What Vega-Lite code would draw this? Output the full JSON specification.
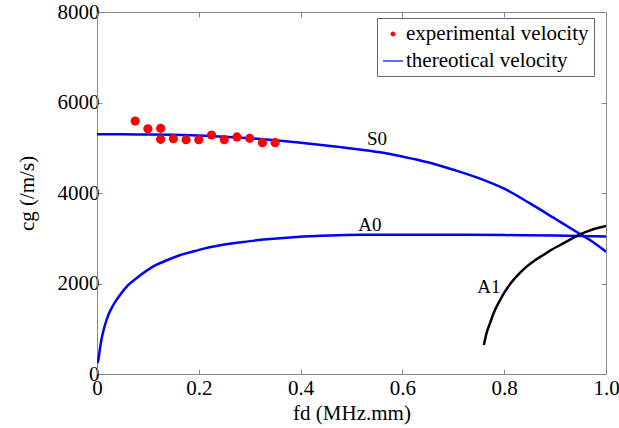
{
  "$schema": "https://vega.github.io/schema/vega-lite/v6.json",
  "width": 509,
  "height": 362,
  "autosize": "none",
  "padding": {"left": 97, "top": 12, "right": 13, "bottom": 54},
  "background": "white",
  "datasets": {
    "exp": [
      {"fd": 0.075, "v": 5590, "series": "experimental velocity"},
      {"fd": 0.1, "v": 5420, "series": "experimental velocity"},
      {"fd": 0.125, "v": 5430, "series": "experimental velocity"},
      {"fd": 0.125, "v": 5187, "series": "experimental velocity"},
      {"fd": 0.15, "v": 5200, "series": "experimental velocity"},
      {"fd": 0.175, "v": 5178, "series": "experimental velocity"},
      {"fd": 0.2, "v": 5178, "series": "experimental velocity"},
      {"fd": 0.225, "v": 5282, "series": "experimental velocity"},
      {"fd": 0.25, "v": 5178, "series": "experimental velocity"},
      {"fd": 0.275, "v": 5238, "series": "experimental velocity"},
      {"fd": 0.3, "v": 5208, "series": "experimental velocity"},
      {"fd": 0.325, "v": 5112, "series": "experimental velocity"},
      {"fd": 0.35, "v": 5112, "series": "experimental velocity"}
    ],
    "theory": [
      {"mode": "S0", "fd": 0.0, "v": 5300, "series": "thereotical velocity"},
      {"mode": "S0", "fd": 0.05, "v": 5298, "series": "thereotical velocity"},
      {"mode": "S0", "fd": 0.1, "v": 5293, "series": "thereotical velocity"},
      {"mode": "S0", "fd": 0.15, "v": 5285, "series": "thereotical velocity"},
      {"mode": "S0", "fd": 0.2, "v": 5270, "series": "thereotical velocity"},
      {"mode": "S0", "fd": 0.25, "v": 5245, "series": "thereotical velocity"},
      {"mode": "S0", "fd": 0.3, "v": 5210, "series": "thereotical velocity"},
      {"mode": "S0", "fd": 0.35, "v": 5165, "series": "thereotical velocity"},
      {"mode": "S0", "fd": 0.4, "v": 5110, "series": "thereotical velocity"},
      {"mode": "S0", "fd": 0.45, "v": 5050, "series": "thereotical velocity"},
      {"mode": "S0", "fd": 0.5, "v": 4985, "series": "thereotical velocity"},
      {"mode": "S0", "fd": 0.556, "v": 4899, "series": "thereotical velocity"},
      {"mode": "S0", "fd": 0.6, "v": 4805, "series": "thereotical velocity"},
      {"mode": "S0", "fd": 0.65, "v": 4680, "series": "thereotical velocity"},
      {"mode": "S0", "fd": 0.7, "v": 4515, "series": "thereotical velocity"},
      {"mode": "S0", "fd": 0.75, "v": 4330, "series": "thereotical velocity"},
      {"mode": "S0", "fd": 0.8, "v": 4095, "series": "thereotical velocity"},
      {"mode": "S0", "fd": 0.85, "v": 3775, "series": "thereotical velocity"},
      {"mode": "S0", "fd": 0.9, "v": 3430, "series": "thereotical velocity"},
      {"mode": "S0", "fd": 0.936, "v": 3182, "series": "thereotical velocity"},
      {"mode": "S0", "fd": 0.97, "v": 2950, "series": "thereotical velocity"},
      {"mode": "S0", "fd": 1.0, "v": 2703, "series": "thereotical velocity"},
      {"mode": "A0", "fd": 0.0008, "v": 240, "series": "thereotical velocity"},
      {"mode": "A0", "fd": 0.0026, "v": 309, "series": "thereotical velocity"},
      {"mode": "A0", "fd": 0.0059, "v": 568, "series": "thereotical velocity"},
      {"mode": "A0", "fd": 0.0092, "v": 789, "series": "thereotical velocity"},
      {"mode": "A0", "fd": 0.0157, "v": 1083, "series": "thereotical velocity"},
      {"mode": "A0", "fd": 0.0222, "v": 1304, "series": "thereotical velocity"},
      {"mode": "A0", "fd": 0.032, "v": 1525, "series": "thereotical velocity"},
      {"mode": "A0", "fd": 0.0452, "v": 1746, "series": "thereotical velocity"},
      {"mode": "A0", "fd": 0.0615, "v": 1967, "series": "thereotical velocity"},
      {"mode": "A0", "fd": 0.0812, "v": 2150, "series": "thereotical velocity"},
      {"mode": "A0", "fd": 0.1074, "v": 2358, "series": "thereotical velocity"},
      {"mode": "A0", "fd": 0.1336, "v": 2497, "series": "thereotical velocity"},
      {"mode": "A0", "fd": 0.1598, "v": 2614, "series": "thereotical velocity"},
      {"mode": "A0", "fd": 0.1925, "v": 2718, "series": "thereotical velocity"},
      {"mode": "A0", "fd": 0.212, "v": 2777, "series": "thereotical velocity"},
      {"mode": "A0", "fd": 0.261, "v": 2880, "series": "thereotical velocity"},
      {"mode": "A0", "fd": 0.327, "v": 2970, "series": "thereotical velocity"},
      {"mode": "A0", "fd": 0.392, "v": 3030, "series": "thereotical velocity"},
      {"mode": "A0", "fd": 0.458, "v": 3062, "series": "thereotical velocity"},
      {"mode": "A0", "fd": 0.523, "v": 3076, "series": "thereotical velocity"},
      {"mode": "A0", "fd": 0.6, "v": 3080, "series": "thereotical velocity"},
      {"mode": "A0", "fd": 0.7, "v": 3078, "series": "thereotical velocity"},
      {"mode": "A0", "fd": 0.8, "v": 3070, "series": "thereotical velocity"},
      {"mode": "A0", "fd": 0.9, "v": 3060, "series": "thereotical velocity"},
      {"mode": "A0", "fd": 1.0, "v": 3040, "series": "thereotical velocity"}
    ],
    "a1": [
      {"mode": "A1", "fd": 0.76, "v": 641},
      {"mode": "A1", "fd": 0.765, "v": 890},
      {"mode": "A1", "fd": 0.772, "v": 1120},
      {"mode": "A1", "fd": 0.781, "v": 1390},
      {"mode": "A1", "fd": 0.792, "v": 1635},
      {"mode": "A1", "fd": 0.802, "v": 1830},
      {"mode": "A1", "fd": 0.814, "v": 2020},
      {"mode": "A1", "fd": 0.828, "v": 2200},
      {"mode": "A1", "fd": 0.844, "v": 2372},
      {"mode": "A1", "fd": 0.86, "v": 2510},
      {"mode": "A1", "fd": 0.877, "v": 2630},
      {"mode": "A1", "fd": 0.893, "v": 2745},
      {"mode": "A1", "fd": 0.91, "v": 2851},
      {"mode": "A1", "fd": 0.93, "v": 2975},
      {"mode": "A1", "fd": 0.949, "v": 3087},
      {"mode": "A1", "fd": 0.969, "v": 3175},
      {"mode": "A1", "fd": 1.0, "v": 3270}
    ],
    "labels": [
      {"fd": 0.55, "v": 5187, "label": "S0"},
      {"fd": 0.536, "v": 3293, "label": "A0"},
      {"fd": 0.77, "v": 1916, "label": "A1"}
    ]
  },
  "resolve": {"axis": {"x": "independent", "y": "independent"}},
  "layer": [
    {
      "data": {"name": "theory"},
      "mark": {"type": "line", "strokeWidth": 2.5, "clip": true, "interpolate": "monotone"},
      "encoding": {
        "x": {
          "field": "fd",
          "type": "quantitative",
          "scale": {"domain": [0, 1], "nice": false, "zero": false},
          "axis": {
            "orient": "bottom",
            "title": "fd (MHz.mm)",
            "values": [0, 0.2, 0.4, 0.6, 0.8, 1.0],
            "labelExpr": "datum.value == 0 ? '0' : format(datum.value, '.1f')",
            "labelPadding": 8,
            "titlePadding": 4,
            "labelFlush": false,
            "labelFont": "Liberation Serif",
            "titleFont": "Liberation Serif",
            "labelFontSize": 21,
            "titleFontSize": 21
          }
        },
        "y": {
          "field": "v",
          "type": "quantitative",
          "scale": {"domain": [0, 8000], "nice": false},
          "axis": {
            "orient": "left",
            "title": "cg (/m/s)",
            "values": [0, 2000, 4000, 6000, 8000],
            "format": "d",
            "labelPadding": 3,
            "titlePadding": 20,
            "labelFont": "Liberation Serif",
            "titleFont": "Liberation Serif",
            "labelFontSize": 21,
            "titleFontSize": 21
          }
        },
        "detail": {"field": "mode"},
        "color": {
          "field": "series",
          "type": "nominal",
          "scale": {"domain": ["experimental velocity", "thereotical velocity"], "range": ["#ff0000", "#0000ff"]},
          "legend": {
            "orient": "none",
            "legendX": 280,
            "legendY": 6,
            "title": null,
            "labelFont": "Liberation Serif",
            "labelFontSize": 21,
            "labelColor": "black",
            "labelLimit": 400,
            "strokeColor": "#666",
            "fillColor": "white",
            "padding": 5,
            "rowPadding": 6,
            "symbolSize": 300,
            "symbolStrokeWidth": 1.2,
            "labelOffset": 2,
            "encode": {
              "symbols": {
                "update": {
                  "fill": {"value": "transparent"},
                  "size": {"signal": "datum.value === 'experimental velocity' ? 14 : 400"},
                  "stroke": {"signal": "datum.value === 'experimental velocity' ? '#ff0000' : '#0000ff'"},
                  "strokeWidth": {"value": 1.2},
                  "opacity": {"value": 1}
                }
              }
            }
          }
        }
      }
    },
    {
      "data": {"name": "exp"},
      "mark": {"type": "point", "filled": true, "size": 85, "opacity": 1},
      "encoding": {
        "x": {"field": "fd", "type": "quantitative", "axis": null},
        "y": {"field": "v", "type": "quantitative", "axis": null},
        "color": {"field": "series", "type": "nominal"},
        "shape": {
          "field": "series",
          "type": "nominal",
          "scale": {"domain": ["experimental velocity", "thereotical velocity"], "range": ["circle", "stroke"]}
        }
      }
    },
    {
      "data": {"name": "labels"},
      "mark": {"type": "text", "font": "Liberation Serif", "fontSize": 19, "color": "black"},
      "encoding": {
        "x": {"field": "fd", "type": "quantitative", "axis": null},
        "y": {"field": "v", "type": "quantitative", "axis": null},
        "text": {"field": "label"}
      }
    },
    {
      "data": {"name": "a1"},
      "mark": {"type": "line", "strokeWidth": 2.5, "color": "black", "clip": true, "interpolate": "monotone"},
      "encoding": {
        "x": {
          "field": "fd",
          "type": "quantitative",
          "axis": {"orient": "top", "values": [0, 0.2, 0.4, 0.6, 0.8, 1.0], "labels": false, "title": null, "domain": false}
        },
        "y": {
          "field": "v",
          "type": "quantitative",
          "axis": {"orient": "right", "values": [0, 2000, 4000, 6000, 8000], "labels": false, "title": null, "domain": false}
        }
      }
    }
  ],
  "config": {
    "font": "Liberation Serif",
    "view": {"stroke": "#888", "strokeWidth": 1},
    "axis": {
      "grid": false,
      "labelFont": "Liberation Serif",
      "labelColor": "black",
      "titleFont": "Liberation Serif",
      "titleFontWeight": "normal",
      "titleColor": "black",
      "domainColor": "#888",
      "tickColor": "#888",
      "tickSize": -5
    }
  }
}
